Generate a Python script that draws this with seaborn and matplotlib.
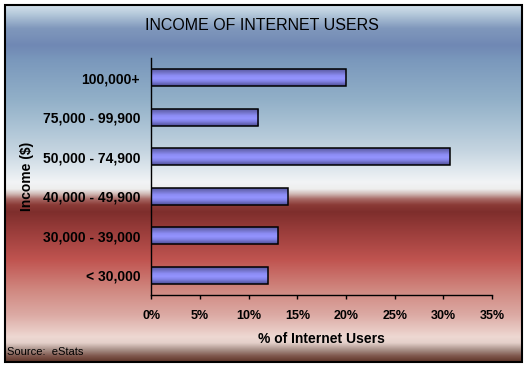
import numpy as np
import pandas as pd
import matplotlib
matplotlib.use("Agg")
import matplotlib.pyplot as plt
import seaborn as sns
from matplotlib.colors import to_rgb
from matplotlib.patches import Rectangle

# ---- data ----
categories = ["100,000+", "75,000 - 99,900", "50,000 - 74,900",
              "40,000 - 49,900", "30,000 - 39,000", "< 30,000"]
values = [20, 11, 30.7, 14, 13, 12]
xticks = [0, 5, 10, 15, 20, 25, 30, 35]
xticklabels = ["0%", "5%", "10%", "15%", "20%", "25%", "30%", "35%"]
title = "INCOME OF INTERNET USERS"
xlabel = "% of Internet Users"
ylabel = "Income ($)"
source = "Source:  eStats"

df = pd.DataFrame({"category": categories, "value": values})

sns.set_theme(style="white")
plt.rcParams['font.family'] = ['Liberation Sans', 'DejaVu Sans']

W, H = 530, 368
fig = plt.figure(figsize=(W / 100, H / 100), dpi=100)
fig.patch.set_facecolor("white")

# ---- background gradient panel ----
bg = fig.add_axes([0, 0, 1, 1], zorder=0)
bg.set_xlim(0, W)
bg.set_ylim(H, 0)
bg.axis("off")

stops = [
    (5, "#d4e2ec"), (14, "#b4c8da"), (28, "#8098bc"), (45, "#7088b4"),
    (60, "#7a98bc"), (80, "#86a4c2"), (100, "#92b0c8"), (125, "#aac2d4"),
    (150, "#c4d4e0"), (170, "#e0e8ee"), (182, "#f2f4f6"), (189, "#eeeeee"),
    (194, "#d0b8b4"), (199, "#a86a66"), (205, "#8a3a36"), (212, "#7e2e2c"),
    (230, "#983c3a"), (260, "#c05450"), (290, "#d08880"), (315, "#dcaaa4"),
    (337, "#eed8d2"), (343, "#e4d0ca"), (350, "#a89088"), (356, "#80584e"),
    (362, "#5e3428"),
]
sy = np.array([s[0] for s in stops], dtype=float)
sc = np.array([to_rgb(s[1]) for s in stops])
ys = np.linspace(5, 362, 714)
grad = np.stack([np.interp(ys, sy, sc[:, k]) for k in range(3)], axis=1)
bg.imshow(grad[:, None, :], extent=[5, 522, 362, 5], aspect="auto",
          interpolation="bilinear")
bg.add_patch(Rectangle((5, 5), 517, 357, fill=False, ec="black", lw=1.5))
bg.set_xlim(0, W)
bg.set_ylim(H, 0)

bg.text(262, 25.5, title, ha="center", va="center", fontsize=11.5,
        color="black")
bg.text(7, 352, source, ha="left", va="center", fontsize=8, color="black")

# ---- main axes ----
x0, x1, ytop, ybot = 151.3, 492, 58, 295
ax = fig.add_axes([x0 / W, (H - ybot) / H, (x1 - x0) / W, (ybot - ytop) / H],
                  zorder=1)
ax.patch.set_alpha(0)

sns.barplot(data=df, x="value", y="category", orient="h", width=0.42,
            color="#9090ff", edgecolor="black", linewidth=1.1, ax=ax)

# bar shading gradient across the bar thickness
bar_stops = [(0.0, "#5a5aa6"), (0.18, "#7070c4"), (0.38, "#8c8cf4"),
             (0.55, "#9494ff"), (0.72, "#8484e8"), (0.86, "#6868bc"),
             (1.0, "#50509a")]
bp = np.array([b[0] for b in bar_stops])
bc = np.array([to_rgb(b[1]) for b in bar_stops])
tt = np.linspace(0, 1, 64)
bgrad = np.stack([np.interp(tt, bp, bc[:, k]) for k in range(3)], axis=1)
for p in list(ax.patches):
    bx, by, bw, bh = p.get_x(), p.get_y(), p.get_width(), p.get_height()
    im = ax.imshow(bgrad[:, None, :], extent=[bx, bx + bw, by + bh, by],
                   aspect="auto", interpolation="bilinear", zorder=2)
    im.set_clip_path(p)
    p.set_facecolor("none")
    p.set_zorder(3)

ax.set_xlim(0, 35)
ax.set_ylim(len(categories) - 0.5, -0.5)
ax.set_xticks(xticks)
ax.set_xticklabels(xticklabels, fontsize=9, fontweight="bold")
for lab in ax.get_yticklabels():
    lab.set_fontsize(10)
    lab.set_fontweight("bold")

for s in ["top", "right"]:
    ax.spines[s].set_visible(False)
for s in ["left", "bottom"]:
    ax.spines[s].set_color("black")
    ax.spines[s].set_linewidth(1)

ax.tick_params(axis="x", bottom=True, length=3, width=1, color="black",
               direction="out", pad=8, labelcolor="black")
ax.tick_params(axis="y", left=False, length=0, pad=8, labelcolor="black")

ax.set_xlabel(xlabel, fontsize=10, fontweight="bold", color="black")
ax.xaxis.label.set_va("center")
ax.xaxis.set_label_coords(0.5, (ybot - 339) / (ybot - ytop))
ax.set_ylabel(ylabel, fontsize=10, fontweight="bold", color="black")
ax.yaxis.label.set_va("center")
ax.yaxis.set_label_coords((27 - x0) / (x1 - x0), 0.5)

fig.savefig("out.png", dpi=100)
